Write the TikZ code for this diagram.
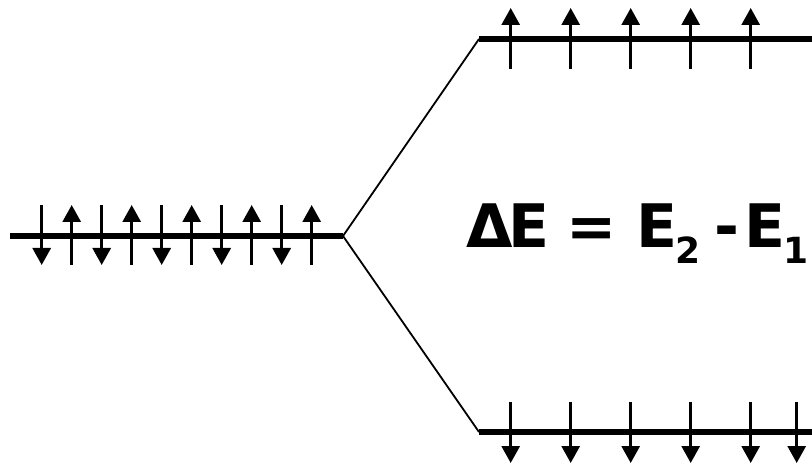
\documentclass[tikz,border=0pt]{standalone}
\usepackage{fontspec}
\setmainfont{DejaVu Sans}
\usetikzlibrary{arrows.meta}
\begin{document}
\begin{tikzpicture}[x=1pt,y=-1pt,
  level/.style={line width=5.5pt},
  link/.style={line width=1.8pt},
  spin/.style={line width=3pt,-{Triangle[width=18pt,length=17pt]}},
  lbl/.style={font=\fontsize{60}{60}\selectfont\bfseries,inner sep=0pt,anchor=base west},
  sub/.style={font=\fontsize{36}{36}\selectfont\bfseries,inner sep=0pt,anchor=base west}]
\useasboundingbox (0,0) rectangle (812,465);
\coordinate (L0) at (10,236);
\coordinate (L1) at (343,236);
\coordinate (U0) at (479,39);
\coordinate (U1) at (812,39);
\coordinate (D0) at (479,432);
\coordinate (D1) at (812,432);
\draw[level] (L0) -- (L1);
\draw[level] (U0) -- (U1);
\draw[level] (D0) -- (D1);
\draw[link] (L1) -- (U0);
\draw[link] (L1) -- (D0);
% left level: alternating down/up
\foreach \i in {0,...,4}{
  \draw[spin] (41.7+60*\i,205) -- (41.7+60*\i,265);
  \draw[spin] (71.7+60*\i,265) -- (71.7+60*\i,205);
}
% upper level: up spins
\foreach \x in {510.7,570.7,630.7,690.7,750.7}
  \draw[spin] (\x,69) -- (\x,8);
% lower level: down spins
\foreach \x in {510.7,570.7,630.7,690.7,750.7,796.7}
  \draw[spin] (\x,402) -- (\x,463);
\node[lbl] (dE) at (466,248) {Δ};
\node[lbl] (E) at (508,248) {E};
\node[lbl] (eq) at (566,248) {=};
\node[lbl] (E2) at (636,248) {E};
\node[sub] (s2) at (675,264) {2};
\node[lbl] (mn) at (714,248) {-};
\node[lbl] (E1) at (744,248) {E};
\node[sub] (s1) at (783,264) {1};
\end{tikzpicture}
\end{document}
